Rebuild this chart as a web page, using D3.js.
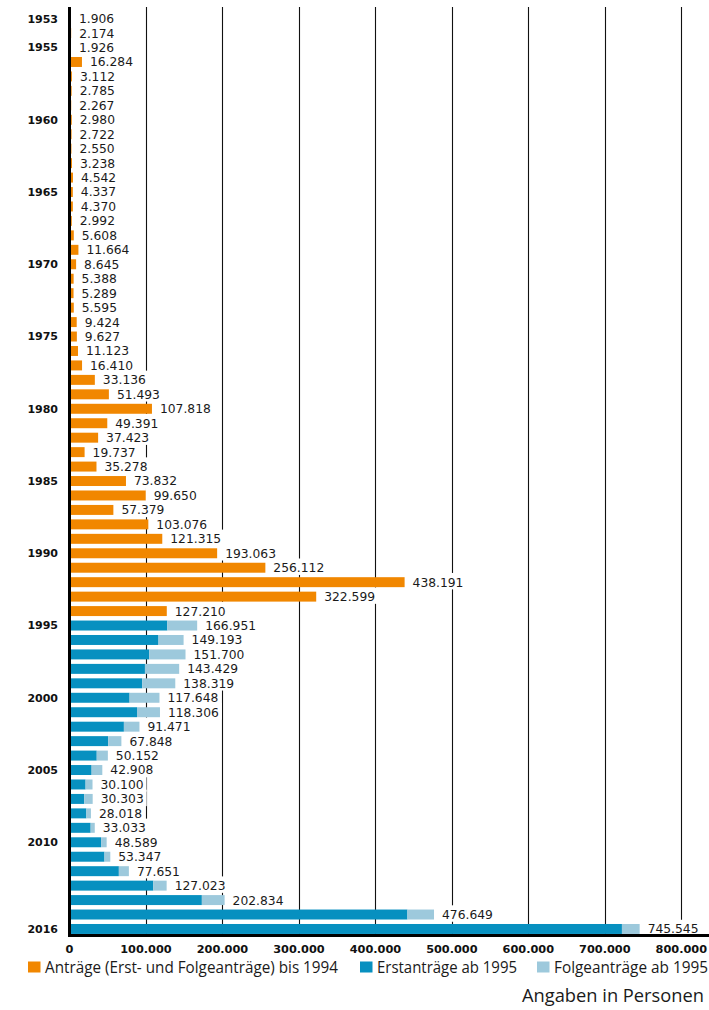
<!DOCTYPE html>
<html>
<head>
<meta charset="utf-8">
<script src="https://cdn.jsdelivr.net/npm/d3@7"></script>
<style>
  body { margin: 0; background: #fff; }
  svg { display: block; }
</style>
</head>
<body>
<div id="chart"></div>
<script>
// Asylanträge 1953-2016
const jahre = d3.range(1953, 2017);
const jahreBis1994 = d3.range(1953, 1995);
const jahreAb1995 = d3.range(1995, 2017);

const antraegeBis1994 = [1906, 2174, 1926, 16284, 3112, 2785, 2267, 2980, 2722, 2550,
  3238, 4542, 4337, 4370, 2992, 5608, 11664, 8645, 5388, 5289,
  5595, 9424, 9627, 11123, 16410, 33136, 51493, 107818, 49391, 37423,
  19737, 35278, 73832, 99650, 57379, 103076, 121315, 193063, 256112, 438191,
  322599, 127210];

const erstAb1995 = [127937, 116367, 104353, 98644, 95113, 78564, 88287, 71127, 50563, 35607,
  28914, 21029, 19164, 22085, 27649, 41332, 45741, 64539, 109580, 173072, 441899, 722370];
const folgeAb1995 = [39014, 32826, 47347, 44785, 43206, 39084, 30019, 20344, 17285, 14545,
  13994, 9071, 11139, 5933, 5384, 7257, 7606, 13112, 17443, 29762, 34750, 23175];

const jahrLabels = [1953, 1955, 1960, 1965, 1970, 1975, 1980, 1985, 1990, 1995, 2000, 2005, 2010, 2016];
const xTicks = [0, 100000, 200000, 300000, 400000, 500000, 600000, 700000, 800000];

const legende = [
  { name: "Anträge (Erst- und Folgeanträge) bis 1994", color: "#f18700", x: 28, w: 293 },
  { name: "Erstanträge ab 1995", color: "#0790c0", x: 360, w: 140 },
  { name: "Folgeanträge ab 1995", color: "#9dc9dc", x: 537, w: 154 }
];

const W = 709, H = 1010;
const de = d3.formatLocale({ decimal: ",", thousands: ".", grouping: [3], currency: ["", "€"] });
const fmt = de.format(",d");

const svg = d3.select("#chart").append("svg").attr("width", W).attr("height", H);

const x = d3.scaleLinear().domain([0, 800000]).range([69.5, 681.3]);
const y = d3.scaleBand().domain(jahre).range([11.4, 936.2]).paddingInner(0.31).paddingOuter(0.155);

const axisY = 935.5, topY = 7;

// rows
const rows = [];
jahreBis1994.forEach((j, i) => rows.push({ jahr: j, segs: [{ x0: 0, x1: antraegeBis1994[i], c: legende[0].color }], total: antraegeBis1994[i] }));
jahreAb1995.forEach((j, i) => rows.push({
  jahr: j,
  segs: [
    { x0: 0, x1: erstAb1995[i], c: legende[1].color },
    { x0: erstAb1995[i], x1: erstAb1995[i] + folgeAb1995[i], c: legende[2].color }
  ],
  total: erstAb1995[i] + folgeAb1995[i]
}));

// gridlines
svg.append("g").selectAll("line").data(xTicks.slice(1)).join("line")
  .attr("x1", d => Math.round(x(d)) + 0.5).attr("x2", d => Math.round(x(d)) + 0.5)
  .attr("y1", topY).attr("y2", axisY)
  .attr("stroke", "#111").attr("stroke-width", 1.1);

const gap = y.step() - y.bandwidth();

// label backgrounds + labels
const lab = svg.append("g").selectAll("g").data(rows).join("g");
const bg = lab.append("rect").attr("fill", "#fff");
const txt = lab.append("text")
  .attr("x", d => x(d.total) + 8)
  .attr("y", d => y(d.jahr) + y.bandwidth() / 2)
  .attr("dy", "0.36em")
  .attr("font-family", "DejaVu Sans, sans-serif")
  .attr("font-size", 12.3)
  .attr("fill", "#1a1a1a")
  .text(d => fmt(d.total));
txt.each(function(d) { d.tw = this.getComputedTextLength(); });
bg.attr("x", d => x(d.total))
  .attr("width", d => d.tw + 11)
  .attr("y", d => y(d.jahr) - gap / 2 - 2)
  .attr("height", y.step() + 2);
txt.raise();

// bars
svg.append("g").selectAll("g").data(rows).join("g")
  .selectAll("rect").data(d => d.segs.map(s => ({ ...s, jahr: d.jahr }))).join("rect")
  .attr("x", d => x(d.x0))
  .attr("width", d => x(d.x1) - x(d.x0))
  .attr("y", d => y(d.jahr))
  .attr("height", y.bandwidth())
  .attr("fill", d => d.c);

// axes lines
svg.append("line").attr("x1", 69.5).attr("x2", 69.5).attr("y1", topY).attr("y2", axisY + 1.5)
  .attr("stroke", "#000").attr("stroke-width", 3);
svg.append("line").attr("x1", 68).attr("x2", W).attr("y1", axisY).attr("y2", axisY)
  .attr("stroke", "#000").attr("stroke-width", 3);

// year labels
svg.append("g").selectAll("text").data(jahrLabels).join("text")
  .attr("x", 58)
  .attr("y", d => y(d) + y.bandwidth() / 2)
  .attr("dy", "0.36em")
  .attr("text-anchor", "end")
  .attr("font-family", "DejaVu Sans, sans-serif")
  .attr("font-weight", "bold")
  .attr("font-size", 11)
  .attr("fill", "#111")
  .text(d => d);

// x tick labels
svg.append("g").selectAll("text").data(xTicks).join("text")
  .attr("x", d => x(d))
  .attr("y", 953)
  .attr("text-anchor", "middle")
  .attr("font-family", "DejaVu Sans, sans-serif")
  .attr("font-weight", "bold")
  .attr("font-size", 11.3)
  .attr("fill", "#111")
  .text(d => fmt(d));

// legend
const lg = svg.append("g").selectAll("g").data(legende).join("g");
lg.append("rect")
  .attr("x", d => d.x).attr("y", 961.5)
  .attr("width", 12.5).attr("height", 11)
  .attr("fill", d => d.color);
lg.append("text")
  .attr("x", d => d.x + 17)
  .attr("y", 973)
  .attr("font-family", "Open Sans, sans-serif")
  .attr("font-size", 15.5)
  .attr("fill", "#1a1a1a")
  .attr("textLength", d => d.w)
  .attr("lengthAdjust", "spacingAndGlyphs")
  .text(d => d.name);

svg.append("text")
  .attr("x", 704).attr("y", 1001.5)
  .attr("text-anchor", "end")
  .attr("font-family", "Open Sans, sans-serif")
  .attr("font-size", 17.5)
  .attr("fill", "#1a1a1a")
  .attr("textLength", 182)
  .attr("lengthAdjust", "spacingAndGlyphs")
  .text("Angaben in Personen");
</script>
</body>
</html>
